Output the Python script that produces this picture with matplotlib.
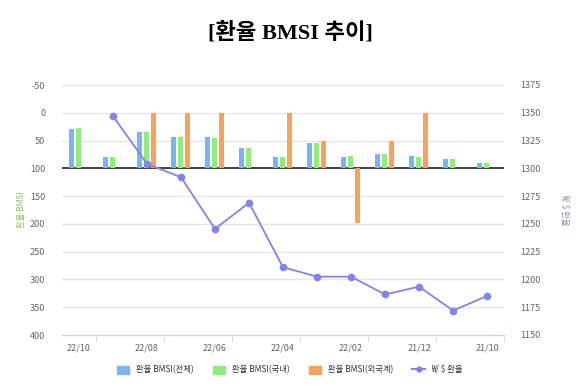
import matplotlib
matplotlib.use('Agg')
import matplotlib.pyplot as plt
import numpy as np
from matplotlib.patches import Patch
from matplotlib.lines import Line2D

plt.rcParams['font.family'] = ['Noto Sans CJK KR', 'DejaVu Sans']
plt.rcParams['axes.unicode_minus'] = False

# ---- data (최근 -> 과거 순) ----
months = ['22/10', '22/09', '22/08', '22/07', '22/06', '22/05', '22/04',
          '22/03', '22/02', '22/01', '21/12', '21/11', '21/10']
bmsi_total = [29, 80, 34, 43, 44, 64, 80, 54, 79, 75, 78, 84, 91]
bmsi_domestic = [28, 80, 34, 43, 45, 64, 80, 54, 78, 75, 80, 84, 91]
bmsi_foreign = [100, 100, 0, 0, 0, 100, 0, 51, 199, 51, 0, 100, 100]
fx_rate = [np.nan, 1347, 1304, 1292, 1245.5, 1269, 1211, 1202.5, 1202.5,
           1186.5, 1193.5, 1172, 1185]
series_names = ['환율 BMSI(전체)', '환율 BMSI(국내)', '환율 BMSI(외국계)', '₩/ $ 환율']

c_blue = '#7cb5ec'
c_green = '#90ed7d'
c_orange = '#f7a35c'
c_line = '#8085e9'
tick_col = '#666666'

fig = plt.figure(figsize=(5.8, 3.88), dpi=100)
ax = fig.add_axes([62/580, 1 - 335/388, 442/580, 250/388])
ax2 = ax.twinx()

x = np.arange(len(months))
w = 0.15
base = 100
for off, vals, col in [(-0.21, bmsi_total, c_blue), (-0.01, bmsi_domestic, c_green),
                       (0.19, bmsi_foreign, c_orange)]:
    h = np.array(vals) - base
    ax.bar(x + off, h, w, bottom=base, color=col, zorder=3, linewidth=0)

ax.axhline(100, color='#333333', lw=1.3, zorder=2)

ax.set_ylim(400, -50)
ax.set_yticks(np.arange(-50, 401, 50))
ax.set_xlim(-0.5, len(months) - 0.5)
ax.grid(axis='y', color='#e6e6e6', lw=1, zorder=0)
ax.set_axisbelow(True)

ax.set_xticks(x[::2])
ax.set_xticklabels(months[::2])
ax.set_xticks(np.arange(0.5, len(months), 2), minor=True)
ax.tick_params(axis='x', which='major', length=0, pad=6, labelsize=6.5, labelcolor=tick_col)
ax.tick_params(axis='x', which='minor', length=5, color='#ccd6eb')
ax.tick_params(axis='y', length=0, pad=12, labelsize=6.5, labelcolor=tick_col)

ax2.plot(x, fx_rate, color=c_line, lw=1.3, marker='o', ms=4.5, zorder=5)
ax2.set_ylim(1150, 1375)
ax2.set_yticks(np.arange(1150, 1376, 25))
ax2.tick_params(axis='y', length=0, pad=12, labelsize=6.5, labelcolor=tick_col)

for a in (ax, ax2):
    for s in ['top', 'left', 'right']:
        a.spines[s].set_visible(False)
    a.spines['bottom'].set_color('#ccd6eb')

ax.set_ylabel('환율 BMSI', color='#8fbf5a', fontsize=6, labelpad=3)
ax2.set_ylabel('₩/ $ 환율', color='#7f8fb0', fontsize=6, rotation=270, labelpad=20)

fig.text(0.5, 0.915, '[환율 BMSI 추이]', ha='center', va='center', fontsize=16,
         fontweight='bold', family=['Liberation Serif', 'Noto Sans CJK KR'])

handles = [Patch(color=c_blue), Patch(color=c_green), Patch(color=c_orange),
           Line2D([0], [0], color=c_line, lw=1.5, marker='o', ms=3.5)]
fig.legend(handles, series_names, loc='center', bbox_to_anchor=(0.5, 1 - 370/388),
           ncol=4, frameon=False, fontsize=6, handlelength=1.5, handleheight=1.0,
           columnspacing=2.3, handletextpad=0.8, labelcolor='#333333')

plt.savefig('out.png', dpi=100)
